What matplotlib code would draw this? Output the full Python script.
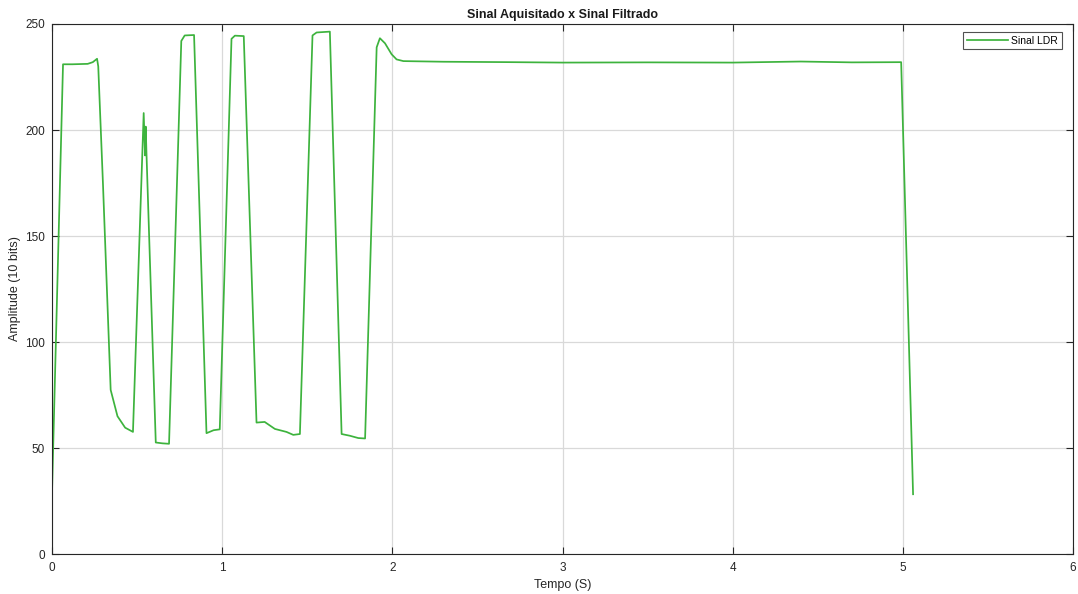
import matplotlib
matplotlib.use("Agg")
import matplotlib.pyplot as plt

plt.rcParams['font.family'] = ['Liberation Sans', 'DejaVu Sans']

title = "Sinal Aquisitado x Sinal Filtrado"
xlabel = "Tempo (S)"
ylabel = "Amplitude (10 bits)"
legend_label = "Sinal LDR"

tempo = [0.000, 0.065, 0.120, 0.210, 0.240, 0.265, 0.272, 0.300, 0.345, 0.385,
         0.430, 0.476, 0.539, 0.547, 0.551, 0.555, 0.610, 0.650, 0.688, 0.760,
         0.780, 0.835, 0.908, 0.950, 0.986, 1.055, 1.075, 1.127, 1.202, 1.250,
         1.310, 1.378, 1.418, 1.457, 1.531, 1.555, 1.633, 1.702, 1.750, 1.800,
         1.840, 1.908, 1.927, 1.957, 1.996, 2.025, 2.065, 2.300, 2.700, 3.000,
         3.500, 4.000, 4.400, 4.700, 4.990, 5.060]
amplitude = [28.0, 231.0, 231.0, 231.2, 232.0, 233.6, 230.0, 174.0, 77.4, 65.0,
             59.6, 57.6, 208.0, 188.0, 201.6, 190.0, 52.6, 52.2, 52.0, 242.0,
             244.6, 244.8, 57.0, 58.4, 58.8, 243.0, 244.5, 244.3, 62.0, 62.3,
             59.0, 57.6, 56.2, 56.6, 244.6, 246.0, 246.4, 56.6, 55.8, 54.7,
             54.5, 239.0, 243.3, 240.9, 235.7, 233.3, 232.5, 232.2, 232.0, 231.8,
             231.9, 231.8, 232.3, 231.9, 232.0, 28.2]

xticks = [0, 1, 2, 3, 4, 5, 6]
yticks = [0, 50, 100, 150, 200, 250]

fig = plt.figure(figsize=(10.78, 5.94), dpi=100)
ax = fig.add_axes([0.0482, 0.0673, 0.9472, 0.8923])

ax.plot(tempo, amplitude, color='#3db33d', linewidth=1.25, label=legend_label)

ax.set_xlim(0, 6)
ax.set_ylim(0, 250)
ax.set_xticks(xticks)
ax.set_yticks(yticks)
ax.grid(True, color='#d9d9d9', linewidth=0.9)
ax.set_axisbelow(True)
ax.tick_params(direction='in', top=True, right=True, labelsize=8.5, length=5,
               color='#262626', labelcolor='#262626')
ax.tick_params(axis='x', pad=6)
ax.tick_params(axis='y', pad=5)
for s in ax.spines.values():
    s.set_color('#262626')
    s.set_linewidth(0.8)

ax.set_title(title, fontsize=9, fontweight='bold', color='#1a1a1a', pad=4.5)
ax.set_xlabel(xlabel, fontsize=9, color='#262626', labelpad=3)
ax.set_ylabel(ylabel, fontsize=9, color='#262626', labelpad=3)

leg = ax.legend(loc='upper right', bbox_to_anchor=(0.989, 0.985), fontsize=7.5,
                frameon=True, fancybox=False, handlelength=4.0, borderpad=0.35,
                borderaxespad=0.0, handletextpad=0.3)
leg.get_frame().set_edgecolor('#262626')
leg.get_frame().set_linewidth(0.8)

fig.savefig("out.png", dpi=100)
